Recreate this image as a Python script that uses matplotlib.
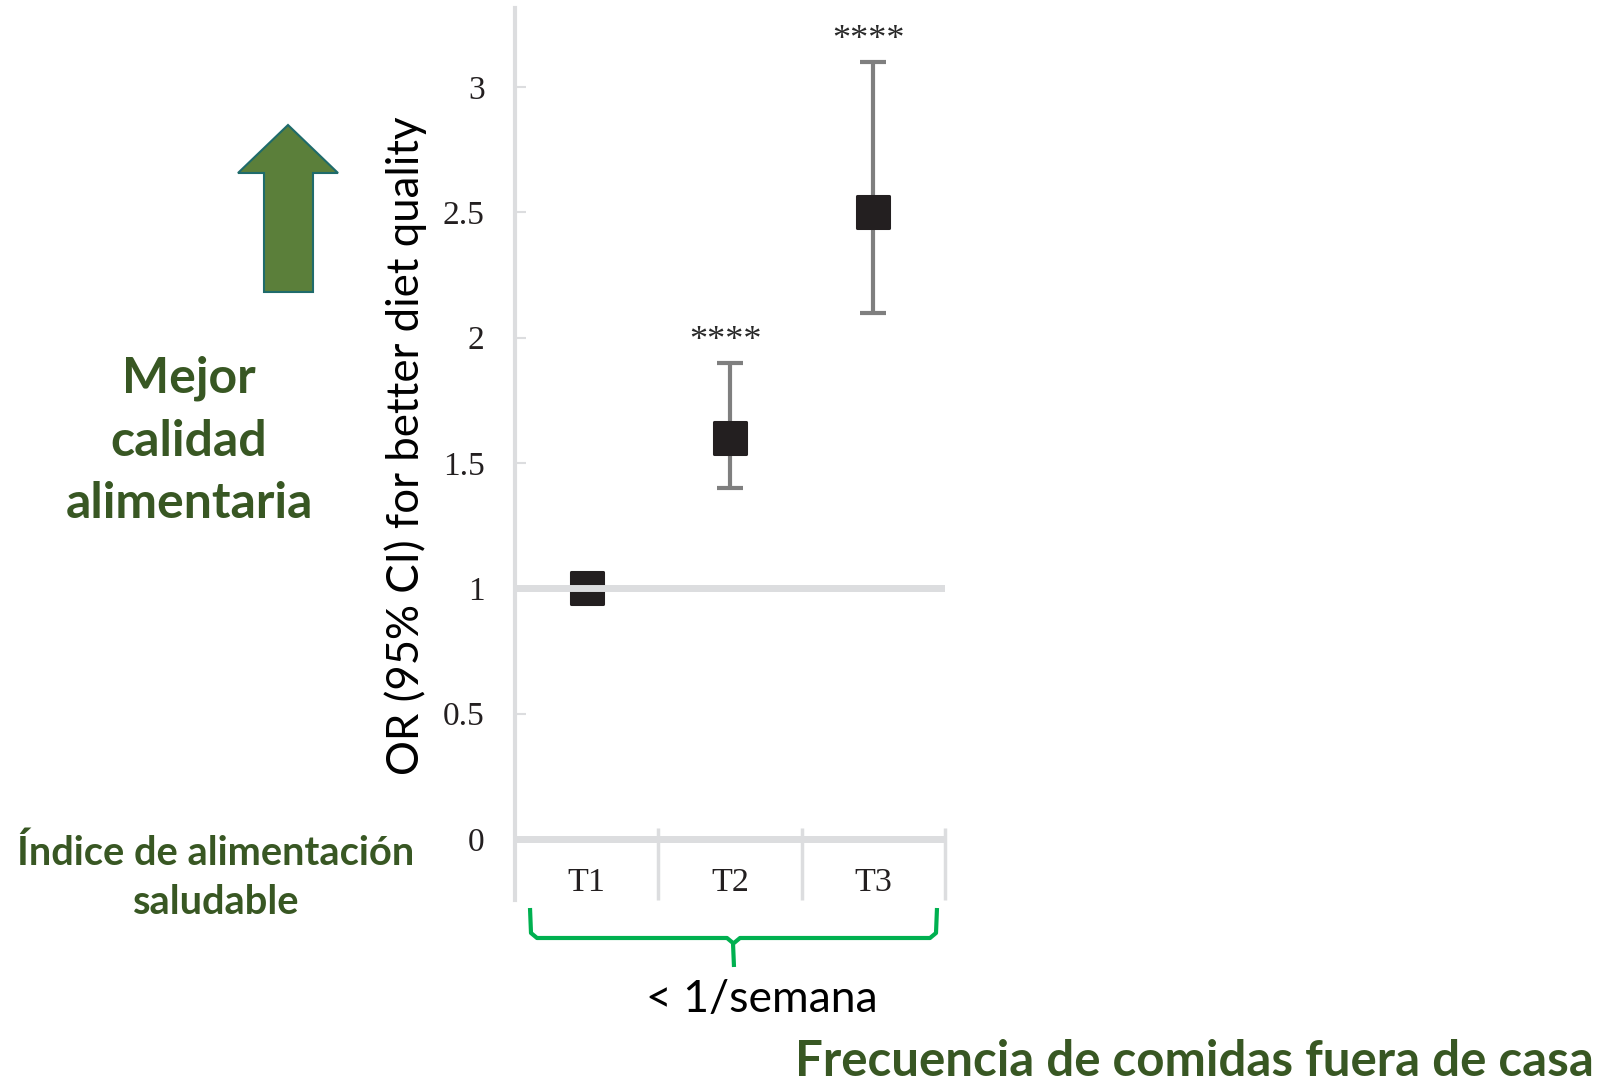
import matplotlib
matplotlib.use("Agg")
import matplotlib.pyplot as plt
from matplotlib.patches import Polygon
from matplotlib.lines import Line2D
from matplotlib.markers import MarkerStyle

# ---- data ----
categories = ["T1", "T2", "T3"]
odds_ratio = [1.0, 1.6, 2.5]
ci_low = [1.0, 1.4, 2.1]
ci_high = [1.0, 1.9, 3.1]
significance = ["", "****", "****"]
ytick_values = [0, 0.5, 1, 1.5, 2, 2.5, 3]
ytick_labels = ["0", "0.5", "1", "1.5", "2", "2.5", "3"]
reference_or = 1.0

W, H = 1599, 1081
DPI = 100
fig = plt.figure(figsize=(W / DPI, H / DPI), dpi=DPI)
fig.patch.set_facecolor("white")


def fx(x):
    return x / W


def fy(y):
    return 1 - y / H


SERIF = ["Liberation Serif", "DejaVu Serif"]
SANS = ["Lato", "DejaVu Sans"]
GREEN_TEXT = "#385723"
AXIS_GRAY = "#DCDDDF"
INK = "#231F20"

# axes box in pixels: x 515..945, y 8..900
ax_left, ax_right, ax_top, ax_bottom = 515, 945, 8, 900
ax = fig.add_axes([fx(ax_left), fy(ax_bottom), (ax_right - ax_left) / W, (ax_bottom - ax_top) / H])
ax.set_xlim(0, 3)
ax.set_ylim(-0.2433, 3.315)
ax.patch.set_alpha(0)

for s in ("top", "right", "bottom"):
    ax.spines[s].set_visible(False)
ax.spines["left"].set_color(AXIS_GRAY)
ax.spines["left"].set_linewidth(3)

ax.set_yticks(ytick_values)
ax.set_yticklabels(ytick_labels, fontfamily=SERIF, fontsize=24, color=INK)
ax.tick_params(axis="y", direction="in", length=8, width=1.5, color=AXIS_GRAY, pad=22)
ax.set_xticks([])

x_pos = [i + 0.5 for i in range(len(categories))]

# zero line and category separators
ax.axhline(0, color=AXIS_GRAY, lw=5, zorder=1)
ax.vlines([1, 2, 3], -0.2433, 0.045, color=AXIS_GRAY, lw=2.5, zorder=1, clip_on=False)

# estimates with confidence intervals
yerr = [[o - lo for o, lo in zip(odds_ratio, ci_low)],
        [hi - o for o, hi in zip(odds_ratio, ci_high)]]
square = MarkerStyle("s", joinstyle="round")
ax.errorbar(x_pos, odds_ratio, yerr=yerr, fmt="none",
            ecolor="#7F7F7F", elinewidth=3, capsize=9.7, capthick=3, zorder=2)
ax.plot(x_pos, odds_ratio, ls="none", marker=square, ms=22.5, mfc=INK, mec=INK,
        mew=2.2, zorder=2.5)

# reference line at OR = 1
ax.axhline(reference_or, color=AXIS_GRAY, lw=5, zorder=3)

# significance marks
for x, hi, sig in zip(x_pos, ci_high, significance):
    if sig:
        ax.annotate(sig, (x, hi), xytext=(-3.5, 9.5), textcoords="offset points",
                    ha="center", va="baseline", fontfamily=SERIF, fontsize=26, color="#2A2A2A")

# category labels
for x, lab in zip(x_pos, categories):
    ax.text(x, -0.1755, lab, ha="center", va="center", fontfamily=SERIF, fontsize=24.5, color=INK)

# y-axis title
fig.text(fx(406), fy(446), "OR (95% CI) for better diet quality", rotation=90,
         ha="center", va="center", fontfamily=SANS, fontsize=31.5, color="black")

# upward arrow
arrow_pts = [(288, 125), (338, 173), (313, 173), (313, 292), (264, 292), (264, 173), (238, 173)]
fig.patches.append(Polygon([(fx(x), fy(y)) for x, y in arrow_pts], closed=True,
                           transform=fig.transFigure, facecolor="#5B7F3A",
                           edgecolor="#1F6B6B", lw=1.5))

# left-hand annotations
for txt, yc in zip(["Mejor", "calidad", "alimentaria"], [378, 441, 504]):
    fig.text(fx(189), fy(yc), txt, ha="center", va="center", fontfamily=SANS,
             fontweight="bold", fontsize=36, color=GREEN_TEXT)
for txt, yc in zip(["Índice de alimentación", "saludable"], [853, 903]):
    fig.text(fx(216), fy(yc), txt, ha="center", va="center", fontfamily=SANS,
             fontweight="bold", fontsize=28.7, color=GREEN_TEXT)

# bracket grouping the tertiles
BR = "#00B050"
left_arm = [(530, 908), (531, 933), (537, 938), (727, 938), (733, 943), (734, 967)]
right_arm = [(734, 943), (740, 938), (930, 938), (936, 933), (937, 908)]
for arm in (left_arm, right_arm):
    fig.lines.append(Line2D([fx(p[0]) for p in arm], [fy(p[1]) for p in arm],
                            transform=fig.transFigure, color=BR, lw=3,
                            solid_capstyle="butt", solid_joinstyle="round"))

fig.text(fx(762), fy(1000), "< 1/semana", ha="center", va="center", fontfamily=SANS,
         fontsize=32, color="black")
fig.text(fx(1594), fy(1061), "Frecuencia de comidas fuera de casa", ha="right", va="center",
         fontfamily=SANS, fontweight="bold", fontsize=35.5, color=GREEN_TEXT)

fig.savefig("out.png", dpi=DPI, facecolor="white")
